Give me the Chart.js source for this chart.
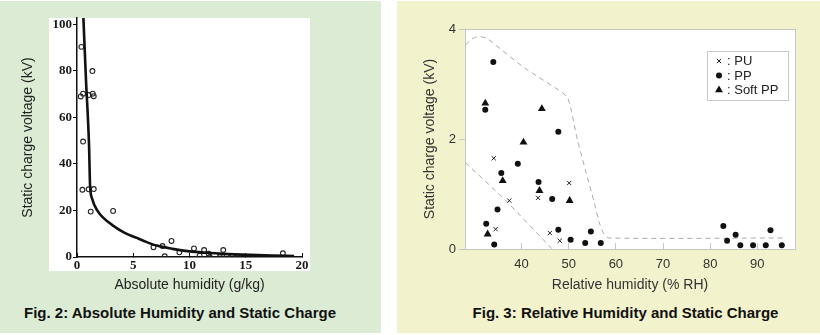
<!DOCTYPE html>
<html>
<head>
<meta charset="utf-8">
<script src="https://cdn.jsdelivr.net/npm/chart.js@4.4.1/dist/chart.umd.min.js"></script>
<style>
  html, body { margin: 0; padding: 0; background: #fff; }
  body { width: 820px; height: 335px; position: relative; overflow: hidden; font-family: 'Liberation Sans', Arial, sans-serif; }
  .panel  { position: absolute; top: 1px; height: 332px; }
  #panelAbs { left: 0; width: 381px; background: #dcebd3; }
  #panelRel { left: 397px; width: 423px; background: #f2f2cc; }
  .foto   { position: absolute; left: 49px; top: 17px; width: 261px; height: 253px; background: #fff; }
  canvas  { position: absolute; top: -1px; left: 0; }
  .pie    { position: absolute; top: 303px; font-weight: bold; font-size: 15px; color: #111; text-align: center; white-space: nowrap; }
</style>
</head>
<body>
<div class="panel" id="panelAbs">
  <div class="foto"></div>
  <canvas id="grafAbs" width="381" height="300"></canvas>
  <div class="pie" style="left:0;width:360px">Fig. 2: Absolute Humidity and Static Charge</div>
</div>
<div class="panel" id="panelRel">
  <canvas id="grafRel" width="423" height="300"></canvas>
  <div class="pie" style="left:73px;width:311px">Fig. 3: Relative Humidity and Static Charge</div>
</div>
<script>
// Fig. 2 - absolute humidity (g/kg) vs static charge (kV)
const absHumidity = [0.39, 1.37, 0.33, 0.54, 1.04, 1.4, 1.49, 0.54, 0.48, 1.04, 1.49, 1.22, 3.21,
                     6.8, 7.6, 7.8, 8.4, 9.1, 10.4, 10.9, 11.3, 11.7, 11.8, 12.7, 13.0, 13.3, 13.8, 14.3, 18.3];
const absVoltage  = [90.3, 79.9, 69.0, 70.2, 69.6, 70.2, 69.1, 49.6, 28.9, 29.1, 29.2, 19.5, 19.8,
                     4.2, 4.7, 0.3, 6.9, 2.0, 3.7, 0.6, 3.0, 1.4, 0.0, 0.0, 3.0, 0.4, 0.3, 0.1, 1.6];
const fitHumidity = [0.54, 0.8, 1.07, 1.16, 1.35, 1.8, 2.3, 3.2, 4.2, 5.3, 6.2, 7.1, 8.5, 10.0, 11.5, 13.0, 15.4, 17.3, 19.3];
const fitVoltage  = [106, 76, 48, 31, 25, 20, 17, 13.5, 10.5, 8.2, 6.4, 4.9, 3.5, 2.4, 1.8, 1.35, 0.9, 0.65, 0.45];
const absTicksX   = [0, 5, 10, 15, 20];
const absTicksY   = [0, 20, 40, 60, 80, 100];

// Fig. 3 - relative humidity (% RH) vs static charge (kV)
const puRH    = [34.1, 37.4, 34.5, 43.5, 50.1, 46.0, 48.1];
const puKV    = [1.65, 0.88, 0.36, 0.93, 1.20, 0.29, 0.15];
const ppRH    = [34.0, 32.3, 47.8, 39.2, 35.7, 43.6, 46.5, 34.9, 32.5, 34.2, 47.8, 50.4, 54.7, 53.5, 56.8,
                 82.8, 83.6, 85.4, 86.4, 89.1, 91.8, 92.8, 95.2];
const ppKV    = [3.40, 2.53, 2.13, 1.55, 1.38, 1.22, 0.91, 0.72, 0.46, 0.08, 0.35, 0.17, 0.32, 0.11, 0.11,
                 0.42, 0.15, 0.26, 0.07, 0.07, 0.07, 0.34, 0.07];
const softRH  = [32.3, 44.3, 40.4, 36.0, 43.8, 50.2, 32.8];
const softKV  = [2.65, 2.55, 1.94, 1.24, 1.06, 0.88, 0.27];
const envTopRH = [28.1, 29.5, 30.8, 32.6, 40.5, 48.4, 49.8, 50.6, 51.8, 53.6, 55.4, 56.6, 57.5, 58.5, 96.0];
const envTopKV = [3.71, 3.82, 3.86, 3.83, 3.30, 2.86, 2.74, 2.50, 2.00, 1.42, 0.85, 0.45, 0.27, 0.20, 0.20];
const envLowRH = [28.1, 36.4, 46.5];
const envLowKV = [1.57, 0.90, 0.00];
const relTicksX = [40, 50, 60, 70, 80, 90];
const relTicksY = [0, 2, 4];
const relSeries = ['PU', 'PP', 'Soft PP'];

const zip   = (xs, ys) => xs.map((x, i) => ({ x, y: ys[i] }));
const sans  = "'Liberation Sans', Arial, sans-serif";
Chart.defaults.animation = false;
Chart.defaults.font.family = sans;

new Chart(document.getElementById('grafAbs'), {
  type: 'scatter',
  data: {
    datasets: [
      { data: zip(fitHumidity, fitVoltage), showLine: true, pointRadius: 0, borderColor: '#111', borderWidth: 2.6,
        cubicInterpolationMode: 'monotone' },
      { data: zip(absHumidity, absVoltage), pointStyle: 'circle', pointRadius: 2.4, borderWidth: 1.1,
        borderColor: '#222', backgroundColor: 'rgba(255,255,255,0)' }
    ]
  },
  options: {
    responsive: false,
    layout: { padding: { left: 0, top: 18, right: 79, bottom: 0 } },
    plugins: { legend: { display: false }, tooltip: { enabled: false } },
    scales: {
      x: {
        type: 'linear', min: 0, max: 20,
        afterBuildTicks: s => { s.ticks = absTicksX.map(v => ({ value: v })); },
        afterFit: s => { s.height = 43; },
        border: { color: '#111', width: 1.5 },
        grid: { drawOnChartArea: false, tickLength: -4, color: '#111' },
        ticks: { padding: 5, color: '#1a1a1a', font: { family: "'Liberation Serif', serif", size: 13, weight: 'bold' } },
        title: { display: true, text: 'Absolute humidity (g/kg)', color: '#222', font: { size: 14 }, padding: { top: 0, bottom: 6.6 } }
      },
      y: {
        min: 0, max: 102.7,
        afterBuildTicks: s => { s.ticks = absTicksY.map(v => ({ value: v })); },
        afterFit: s => { s.width = 77; },
        border: { color: '#111', width: 1.5 },
        grid: { drawOnChartArea: false, tickLength: 4, color: '#111' },
        ticks: { padding: 1, color: '#1a1a1a', font: { family: "'Liberation Serif', serif", size: 13, weight: 'bold' } },
        title: { display: true, text: 'Static charge voltage (kV)', color: '#222', font: { size: 14 }, padding: { top: 19.6, bottom: 0 } }
      }
    }
  }
});

// white plot area with grey frame, plus the boxed legend
const marcoRel = {
  id: 'marcoRel',
  beforeDraw(chart) {
    const { ctx, chartArea: a } = chart;
    ctx.save();
    ctx.fillStyle = '#fff';
    ctx.fillRect(a.left, a.top, a.width, a.height);
    ctx.strokeStyle = '#c6c6c6';
    ctx.lineWidth = 1;
    ctx.strokeRect(Math.round(a.left) + 0.5, Math.round(a.top) + 0.5, Math.round(a.width), Math.round(a.height));
    ctx.restore();
  },
  afterDatasetsDraw(chart) {
    const { ctx, chartArea: a } = chart;
    const bx = a.right - 88, by = a.top + 22, bw = 81, bh = 49;
    ctx.save();
    ctx.fillStyle = '#fff';
    ctx.fillRect(bx, by, bw, bh);
    ctx.strokeStyle = '#c6c6c6';
    ctx.strokeRect(bx + 0.5, by + 0.5, bw, bh);
    ctx.font = '13px ' + sans;
    ctx.textBaseline = 'middle';
    relSeries.forEach((name, i) => {
      const ds = chart.data.datasets[i];
      const y  = by + 10 + i * 14.5;
      ctx.fillStyle   = ds.backgroundColor;
      ctx.strokeStyle = ds.borderColor;
      ctx.lineWidth   = ds.borderWidth;
      Chart.helpers.drawPoint(ctx, { pointStyle: ds.pointStyle, radius: ds.pointRadius, borderWidth: ds.borderWidth, rotation: 0 }, bx + 12, y);
      ctx.fillStyle = '#222';
      ctx.fillText(': ' + name, bx + 20, y + 0.5);
    });
    ctx.restore();
  }
};

new Chart(document.getElementById('grafRel'), {
  type: 'scatter',
  data: {
    datasets: [
      { label: relSeries[0], data: zip(puRH, puKV), pointStyle: 'crossRot', pointRadius: 3, borderWidth: 1,
        borderColor: '#222', backgroundColor: '#222' },
      { label: relSeries[1], data: zip(ppRH, ppKV), pointStyle: 'circle', pointRadius: 3, borderWidth: 0,
        borderColor: '#111', backgroundColor: '#111' },
      { label: relSeries[2], data: zip(softRH, softKV), pointStyle: 'triangle', pointRadius: 4.6, borderWidth: 0,
        borderColor: '#111', backgroundColor: '#111' },
      { data: zip(envTopRH, envTopKV), showLine: true, pointRadius: 0, borderColor: '#aaa', borderWidth: 1,
        borderDash: [5, 4], tension: 0.25 },
      { data: zip(envLowRH, envLowKV), showLine: true, pointRadius: 0, borderColor: '#aaa', borderWidth: 1,
        borderDash: [5, 4], tension: 0.2 }
    ]
  },
  options: {
    responsive: false,
    layout: { padding: { left: 0, top: 29, right: 25, bottom: 0 } },
    plugins: { legend: { display: false }, tooltip: { enabled: false } },
    scales: {
      x: {
        type: 'linear', min: 28, max: 98,
        afterBuildTicks: s => { s.ticks = relTicksX.map(v => ({ value: v })); },
        afterFit: s => { s.height = 51; },
        border: { display: false },
        grid: { drawOnChartArea: false, tickLength: -6, color: '#c6c6c6' },
        ticks: { padding: 14, color: '#333', font: { size: 13 } },
        title: { display: true, text: 'Relative humidity (% RH)', color: '#333', font: { size: 14 }, padding: { top: 0, bottom: 6.6 } }
      },
      y: {
        min: 0, max: 4,
        afterBuildTicks: s => { s.ticks = relTicksY.map(v => ({ value: v })); },
        afterFit: s => { s.width = 68; },
        border: { display: false },
        grid: { drawOnChartArea: false, tickLength: 6, color: '#c6c6c6' },
        ticks: { padding: 3, color: '#333', font: { size: 13 } },
        title: { display: true, text: 'Static charge voltage (kV)', color: '#333', font: { size: 14 }, padding: { top: 24.6, bottom: 0 } }
      }
    }
  },
  plugins: [marcoRel]
});
</script>
</body>
</html>
